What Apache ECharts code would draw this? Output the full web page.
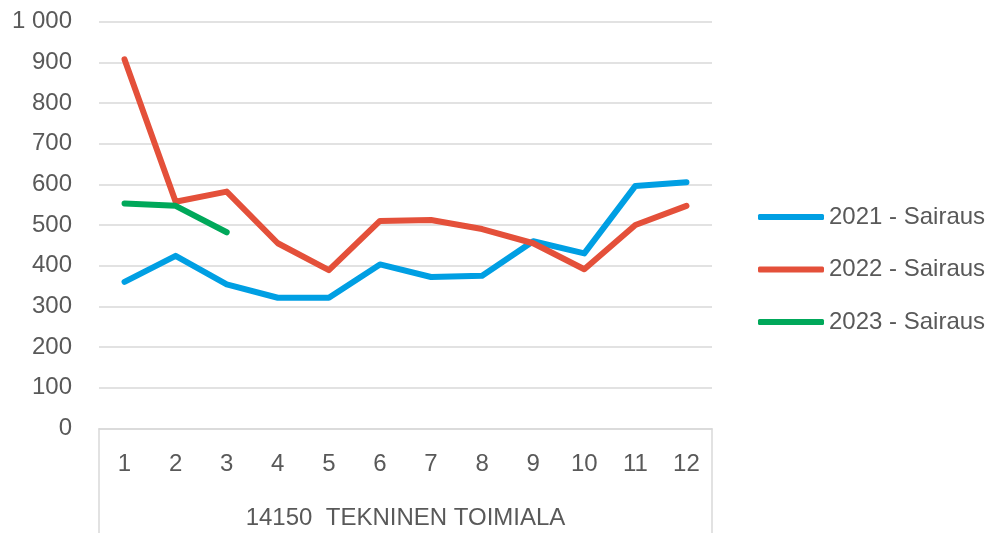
<!DOCTYPE html>
<html><head><meta charset="utf-8">
<script src="https://cdn.jsdelivr.net/npm/echarts@6/dist/echarts.min.js"></script>
<style>html,body{margin:0;padding:0;background:#fff}#c{width:990px;height:533px}</style>
</head><body><div id="c"></div>
<script>
const months = ['1','2','3','4','5','6','7','8','9','10','11','12'];
const groupLabel = ['14150  TEKNINEN TOIMIALA'];
const s2021 = [360, 424, 354, 321, 321, 403, 372, 375, 460, 430, 596, 605];
const s2022 = [907, 557, 582, 455, 389, 510, 512, 490, 455, 391, 500, 547];
const s2023 = [553, 547, 482, null, null, null, null, null, null, null, null, null];
const names = ['2021 - Sairaus', '2022 - Sairaus', '2023 - Sairaus'];
const colors = ['#009fe3', '#e4503a', '#00a85a'];
const FONT = '"Liberation Sans", Arial, sans-serif';
const TXT = '#595959';

const chart = echarts.init(document.getElementById('c'));
const mk = (i, d) => ({
  name: names[i], type: 'line', data: d, xAxisIndex: 0, symbol: 'none',
  lineStyle: { color: colors[i], width: 6, cap: 'round', join: 'round' },
  itemStyle: { color: colors[i] }, connectNulls: false, animation: false
});
chart.setOption({
  animation: false,
  grid: { left: 99, right: 278, top: 21.6, bottom: 104.7, containLabel: false },
  legend: {
    orient: 'vertical', left: 758, top: 205, padding: 0, itemGap: 28.5,
    itemWidth: 66, itemHeight: 6, icon: 'roundRect', itemTextGap: 5,
    textStyle: { fontFamily: FONT, fontSize: 24, lineHeight: 24, color: TXT },
    data: names
  },
  xAxis: [{
    type: 'category', data: months, boundaryGap: true, position: 'bottom',
    axisLine: { lineStyle: { color: '#d9d9d9', width: 1.5 } },
    axisTick: { show: false },
    axisLabel: { margin: 24, fontFamily: FONT, fontSize: 24, color: TXT }
  }, {
    type: 'category', data: groupLabel, boundaryGap: true, position: 'bottom',
    axisLine: { show: false },
    axisTick: { show: true, length: 106, lineStyle: { color: '#d9d9d9', width: 1.5 } },
    axisLabel: { margin: 78, fontFamily: FONT, fontSize: 24, color: TXT }
  }],
  yAxis: {
    type: 'value', min: 0, max: 1000, interval: 100,
    axisLine: { show: false }, axisTick: { show: false },
    splitLine: { lineStyle: { color: '#d9d9d9', width: 1.5 } },
    axisLabel: {
      margin: 27, fontFamily: FONT, fontSize: 24, color: TXT,
      formatter: v => v >= 1000 ? String(v).replace(/\B(?=(\d{3})+(?!\d))/g, ' ') : String(v)
    }
  },
  series: [mk(0, s2021), mk(1, s2022), mk(2, s2023)]
});
</script></body></html>
